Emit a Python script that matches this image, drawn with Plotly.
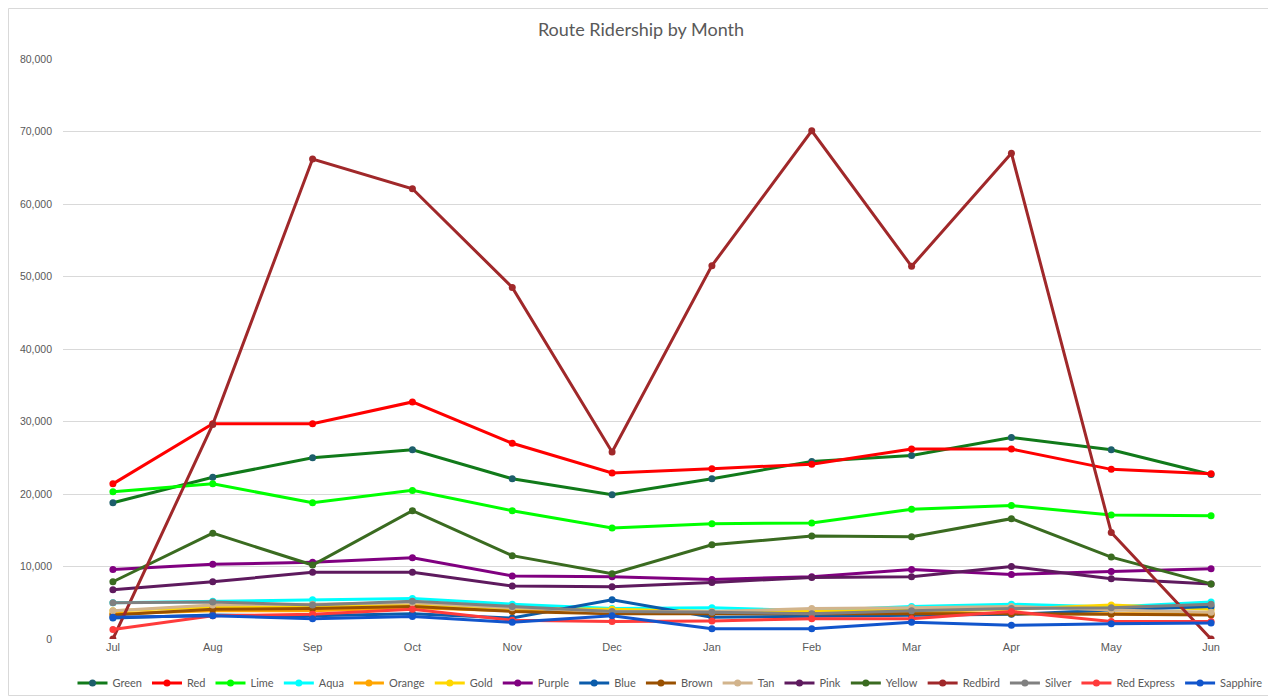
import plotly.graph_objects as go

months = ['Jul', 'Aug', 'Sep', 'Oct', 'Nov', 'Dec', 'Jan', 'Feb', 'Mar', 'Apr', 'May', 'Jun']

green = [18800, 22300, 25000, 26100, 22100, 19900, 22100, 24500, 25300, 27800, 26100, 22700]
red = [21400, 29700, 29700, 32700, 27000, 22900, 23500, 24100, 26200, 26200, 23400, 22800]
lime = [20300, 21400, 18800, 20500, 17700, 15300, 15900, 16000, 17900, 18400, 17100, 17000]
aqua = [5000, 5200, 5400, 5600, 4800, 4200, 4300, 3900, 4500, 4800, 4400, 5100]
orange = [3500, 3900, 3900, 4300, 3900, 3700, 3700, 3600, 3800, 3500, 3500, 3500]
gold = [3900, 4400, 4400, 4700, 4200, 4100, 3800, 3800, 4000, 4100, 4700, 4100]
purple = [9600, 10300, 10600, 11200, 8700, 8600, 8200, 8600, 9600, 8900, 9300, 9700]
blue = [2900, 3300, 3200, 3500, 2900, 5400, 3000, 3100, 3200, 3400, 4000, 4500]
brown = [3300, 4100, 4200, 4500, 3800, 3500, 3500, 3500, 3600, 3500, 3400, 3300]
tan = [3900, 4700, 4800, 5000, 4300, 3800, 3800, 4200, 4300, 4500, 4000, 3700]
pink = [6800, 7900, 9200, 9200, 7300, 7200, 7800, 8500, 8600, 10000, 8300, 7600]
yellow = [7900, 14600, 10200, 17700, 11500, 9000, 13000, 14200, 14100, 16600, 11300, 7600]
redbird = [0, 29600, 66200, 62100, 48500, 25800, 51500, 70100, 51400, 67000, 14700, 0]
silver = [5000, 5100, 4700, 5200, 4500, 3800, 3700, 3500, 3900, 4200, 4300, 4800]
red_express = [1300, 3200, 3400, 4100, 2600, 2400, 2500, 2800, 2800, 3800, 2400, 2400]
sapphire = [3000, 3200, 2800, 3100, 2300, 3200, 1400, 1400, 2300, 1900, 2100, 2200]

series = [
    ('Green', green, '#117A1A', '#1D5E6B'),
    ('Red', red, '#FF0000', '#FF0000'),
    ('Lime', lime, '#00FF00', '#00FF00'),
    ('Aqua', aqua, '#00FFFF', '#00FFFF'),
    ('Orange', orange, '#FFA500', '#FFA500'),
    ('Gold', gold, '#FFD700', '#FFD700'),
    ('Purple', purple, '#800080', '#800080'),
    ('Blue', blue, '#0B5CAB', '#0B5CAB'),
    ('Brown', brown, '#995000', '#995000'),
    ('Tan', tan, '#D2B48C', '#D2B48C'),
    ('Pink', pink, '#5E1A5E', '#5E1A5E'),
    ('Yellow', yellow, '#3A6B20', '#3A6B20'),
    ('Redbird', redbird, '#A0282A', '#A0282A'),
    ('Silver', silver, '#808080', '#808080'),
    ('Red Express', red_express, '#FF3B3B', '#FF3B3B'),
    ('Sapphire', sapphire, '#1155CC', '#1155CC'),
]

fig = go.Figure()
for name, vals, lc, mc in series:
    fig.add_trace(go.Scatter(
        x=months, y=vals, name=name, mode='lines+markers',
        line=dict(color=lc, width=3),
        marker=dict(color=mc, size=7),
    ))

# The page body has an 8px margin, so the figure is placed at (8, 8).
W, H = 1268, 688
L, R, T, B = 55, 15, 51, 57
PW, PH = W - L - R, H - T - B

fig.update_layout(
    width=W, height=H,
    paper_bgcolor='white', plot_bgcolor='white',
    margin=dict(l=L, r=R, t=T, b=B, autoexpand=False),
    title=dict(text='Route Ridership by Month', x=633 / W, xanchor='center',
               xref='container', yref='container', y=(H - 22) / H, yanchor='middle',
               font=dict(family='Lato', size=18, color='#595959')),
    font=dict(family='Lato', color='#595959'),
    xaxis=dict(range=[-0.5, 11.5], showgrid=False, zeroline=False, showline=False,
               ticks='', tickfont=dict(family='Liberation Sans', size=11, color='#595959')),
    yaxis=dict(range=[0, 80000], dtick=10000, tickformat=',', showgrid=True,
               gridcolor='#D9D9D9', gridwidth=1, zeroline=False, showline=False, ticks='',
               ticklabelstandoff=10,
               tickfont=dict(family='Liberation Sans', size=10.5, color='#595959')),
    showlegend=True,
    legend=dict(orientation='h', xref='container', yref='container',
                x=662 / W, xanchor='center', y=(H - 675) / H, yanchor='middle',
                font=dict(family='Lato', size=11, color='#595959'),
                itemwidth=30, tracegroupgap=0, bgcolor='rgba(0,0,0,0)'),
    shapes=[dict(type='rect', xref='paper', yref='paper',
                 x0=(0.5 - L) / PW, x1=(W - 0.5 - L) / PW,
                 y0=(T + PH - (H - 0.5)) / PH, y1=(T + PH - 0.5) / PH,
                 line=dict(color='#D9D9D9', width=1), layer='below')],
)

fig.write_html('out.html')
